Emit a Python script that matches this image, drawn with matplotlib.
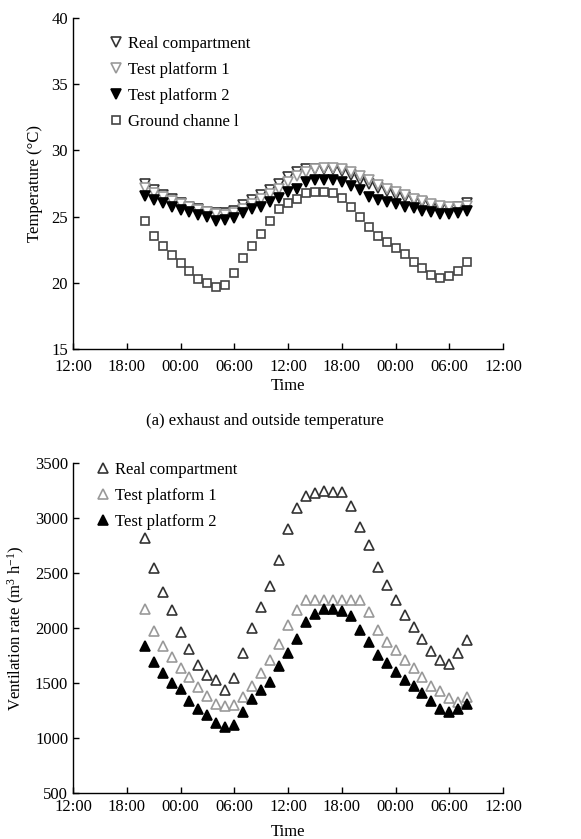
import matplotlib
matplotlib.use("Agg")
import matplotlib.pyplot as plt

plt.rcParams["font.family"] = ["Liberation Serif", "DejaVu Serif"]
plt.rcParams["mathtext.fontset"] = "custom"
plt.rcParams["mathtext.rm"] = "Liberation Serif"
plt.rcParams["mathtext.it"] = "Liberation Serif:italic"
plt.rcParams["font.size"] = 12

# hours since 12:00 of the first day, hourly samples 20:00 -> 08:00
hours = list(range(8, 45))
tick_hours = [0, 6, 12, 18, 24, 30, 36, 42, 48]
tick_labels = ["12:00", "18:00", "00:00", "06:00", "12:00", "18:00", "00:00", "06:00", "12:00"]

# (a) temperature, degC
temp_real = [27.47, 27.02, 26.64, 26.34, 26.0, 25.76, 25.58, 25.38, 25.25, 25.25,
             25.45, 25.9, 26.26, 26.64, 27.02, 27.47, 28.03, 28.36, 28.61, 28.6,
             28.6, 28.6, 28.48, 28.18, 27.78, 27.47, 27.17, 26.92, 26.67, 26.46,
             26.26, 26.08, 25.83, 25.66, 25.66, 25.76, 26.04]
temp_tp1 = [27.2, 26.8, 26.5, 26.2, 25.95, 25.7, 25.5, 25.35, 25.2, 25.15,
            25.25, 25.6, 25.95, 26.3, 26.7, 27.1, 27.6, 28.1, 28.4, 28.6,
            28.65, 28.65, 28.6, 28.4, 28.1, 27.75, 27.4, 27.1, 26.85, 26.6,
            26.35, 26.15, 25.95, 25.8, 25.7, 25.7, 25.8]
temp_tp2 = [26.59, 26.26, 26.0, 25.76, 25.53, 25.33, 25.13, 24.95, 24.7, 24.77,
            24.9, 25.25, 25.58, 25.76, 26.14, 26.41, 26.84, 27.1, 27.6, 27.73,
            27.78, 27.78, 27.65, 27.35, 27.02, 26.52, 26.26, 26.08, 25.96, 25.76,
            25.66, 25.45, 25.33, 25.2, 25.2, 25.25, 25.45]
temp_ground = [24.65, 23.56, 22.75, 22.07, 21.5, 20.93, 20.3, 20.0, 19.65, 19.8,
               20.76, 21.87, 22.75, 23.7, 24.65, 25.58, 26.0, 26.3, 26.8, 26.85,
               26.85, 26.8, 26.4, 25.76, 24.97, 24.2, 23.56, 23.05, 22.6, 22.17,
               21.6, 21.1, 20.6, 20.35, 20.55, 20.9, 21.6]

# (b) ventilation rate, m3/h
vent_real = [2820, 2550, 2325, 2160, 1964, 1814, 1665, 1569, 1524, 1440,
             1545, 1775, 2000, 2195, 2380, 2620, 2900, 3092, 3200, 3224,
             3242, 3236, 3236, 3107, 2920, 2755, 2555, 2390, 2257, 2120,
             2009, 1904, 1790, 1710, 1671, 1769, 1895]
vent_tp1 = [2170, 1973, 1838, 1734, 1635, 1554, 1464, 1386, 1314, 1290,
            1296, 1374, 1476, 1590, 1710, 1853, 2030, 2168, 2255, 2255,
            2255, 2255, 2255, 2255, 2255, 2145, 1979, 1874, 1800, 1710,
            1635, 1554, 1476, 1431, 1365, 1329, 1371]
vent_tp2 = [1838, 1689, 1590, 1500, 1449, 1341, 1266, 1207, 1135, 1096,
            1117, 1237, 1359, 1440, 1509, 1656, 1769, 1898, 2054, 2129,
            2174, 2174, 2159, 2114, 1985, 1874, 1754, 1686, 1605, 1530,
            1476, 1410, 1335, 1266, 1239, 1260, 1311]

fig = plt.figure(figsize=(5.81, 8.39), dpi=100)
ax1 = fig.add_axes([0.1256, 0.584, 0.7404, 0.3945])
ax2 = fig.add_axes([0.1256, 0.0548, 0.7404, 0.3932])


def style_axis(ax, xpad, time_pad):
    ax.spines["top"].set_visible(False)
    ax.spines["right"].set_visible(False)
    ax.spines["left"].set_linewidth(1.0)
    ax.spines["bottom"].set_linewidth(1.0)
    ax.tick_params(direction="in", length=4, width=1.0, labelsize=12)
    ax.tick_params(axis="x", pad=xpad)
    ax.set_xlim(0, 48)
    ax.set_xticks(tick_hours)
    ax.set_xticklabels(tick_labels)
    ax.set_xlabel("Time", fontsize=12, labelpad=time_pad)


ms = 7
# top panel
ax1.plot(hours, temp_real, linestyle="none", marker="v", ms=ms, mfc="white",
         mec="#333333", mew=1.2, label="Real compartment")
ax1.plot(hours, temp_tp1, linestyle="none", marker="v", ms=ms, mfc="white",
         mec="#999999", mew=1.2, label="Test platform 1")
ax1.plot(hours, temp_tp2, linestyle="none", marker="v", ms=ms, mfc="black",
         mec="black", mew=1.2, label="Test platform 2")
ax1.plot(hours, temp_ground, linestyle="none", marker="s", ms=6.2, mfc="white",
         mec="#444444", mew=1.2, label="Ground channe l")
style_axis(ax1, xpad=7, time_pad=2)
ax1.set_ylim(15, 40)
ax1.set_yticks([15, 20, 25, 30, 35, 40])
ax1.set_ylabel("Temperature (°C)", fontsize=12, labelpad=6)
ax1.legend(loc="upper left", bbox_to_anchor=(0.085, 0.946), frameon=False,
           handlelength=0.8, handletextpad=0.3, labelspacing=0.6,
           fontsize=12, borderaxespad=0, borderpad=0)

fig.text(0.456, 0.498, "(a) exhaust and outside temperature", ha="center",
         va="center", fontsize=12)

# bottom panel
ax2.plot(hours, vent_real, linestyle="none", marker="^", ms=ms, mfc="white",
         mec="#333333", mew=1.2, label="Real compartment")
ax2.plot(hours, vent_tp1, linestyle="none", marker="^", ms=ms, mfc="white",
         mec="#999999", mew=1.2, label="Test platform 1")
ax2.plot(hours, vent_tp2, linestyle="none", marker="^", ms=ms, mfc="black",
         mec="black", mew=1.2, label="Test platform 2")
style_axis(ax2, xpad=4, time_pad=7)
ax2.set_ylim(500, 3500)
ax2.set_yticks(range(500, 3501, 500))
ax2.set_ylabel("Ventilation rate (m$^3$ h$^{-1}$)", fontsize=12, labelpad=6)
ax2.legend(loc="upper left", bbox_to_anchor=(0.054, 1.004), frameon=False,
           handlelength=0.8, handletextpad=0.3, labelspacing=0.6,
           fontsize=12, borderaxespad=0, borderpad=0)

fig.savefig("out.png", dpi=100)
